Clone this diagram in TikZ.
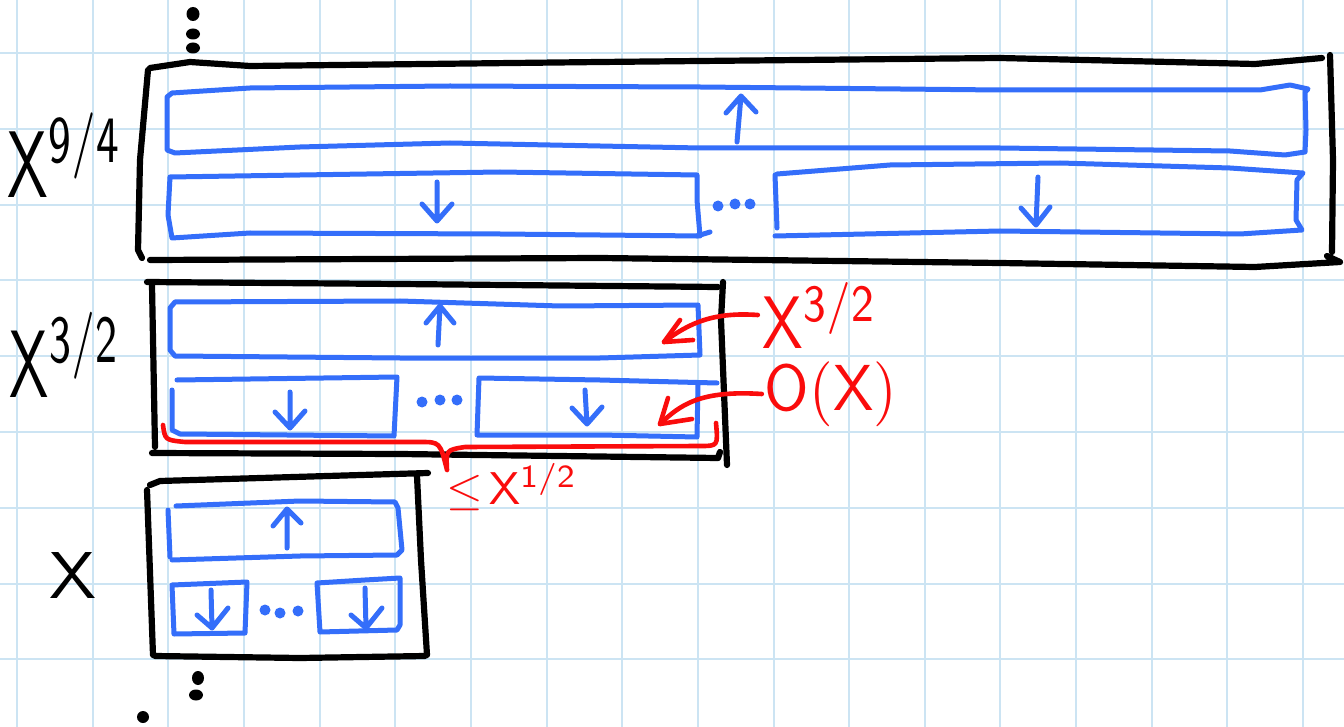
\documentclass[tikz,border=0pt]{standalone}
\usepackage{graphicx}
\definecolor{gridc}{RGB}{204,228,243}
\definecolor{penblue}{RGB}{52,110,250}
\definecolor{penred}{RGB}{250,12,12}
\newcommand{\fitto}[3]{\resizebox*{#1}{#2}{#3}}
\begin{document}
\begin{tikzpicture}[x=1pt,y=-1pt,line cap=round,line join=round,
  gridline/.style={draw=gridc,line width=2pt},
  blk/.style={draw=black,line width=6.2pt},
  blu/.style={draw=penblue,line width=5pt},
  rd/.style={draw=penred,line width=4.6pt},
  bdot/.style={fill=penblue},
  kdot/.style={fill=black},
  lbl/.style={inner sep=0pt,anchor=center},
  rlbl/.style={inner sep=0pt,anchor=center,text=penred}]
\fill[white] (0,0) rectangle (1344,727);
\useasboundingbox (0,0) rectangle (1344,727);
% grid
\foreach \i in {0,...,17} \draw[gridline] ({17+75.65*\i},0) -- ({17+75.65*\i},727);
\foreach \j in {0,...,8} \draw[gridline] (0,{53+75.8*\j}) -- (1344,{53+75.8*\j});

% ---------- level X^{9/4} ----------
\draw[blk] (150,68) -- (190,62) -- (250,66) -- (600,62) -- (1000,58) -- (1255,64) -- (1322,58);
\draw[blk] (148,70) -- (140,160) -- (138,250) -- (142,258);
\draw[blk] (1327,256) -- (1340,262) -- (1255,267) -- (1000,263) -- (600,258) -- (150,260);
\draw[blk] (1330,55) -- (1333,160) -- (1332,252);

\draw[blu] (172,93) -- (167,97) -- (167,150) -- (175,153) -- (300,147) -- (450,143) -- (700,148) -- (1000,148) -- (1230,151) -- (1285,155) -- (1305,152) -- (1306,130) -- (1305,92) -- (1308,89) -- (1290,85) -- (1260,90) -- (1000,90) -- (700,87) -- (450,86) -- (250,88) -- cycle;
\draw[blu] (170,177) -- (300,175) -- (500,172) -- (697,175) -- (697,200) -- (700,236) -- (500,234) -- (250,233) -- (172,238) -- (168,215) -- cycle;
\draw[blu] (697,236) -- (710,232);
\draw[blu] (777,174) -- (890,165) -- (1060,163) -- (1230,168) -- (1303,173) -- (1297,180) -- (1296,220) -- (1302,230) -- (1240,234) -- (1000,231) -- (775,236);
\draw[blu] (775,175) -- (777,228);
\coordinate (a1s) at (737,142); \coordinate (a1t) at (741,96);
\coordinate (a2s) at (437,182); \coordinate (a2t) at (437,221);
\coordinate (a3s) at (1038,177); \coordinate (a3t) at (1036,225);
\draw[blu] (a1s) -- (a1t) ++(-15,17) -- (a1t) -- ++(15,16);
\draw[blu] (a2s) -- (a2t) ++(-15,-17) -- (a2t) -- ++(15,-17);
\draw[blu] (a3s) -- (a3t) ++(-15,-17) -- (a3t) -- ++(14,-18);
\fill[bdot] (718,206) circle (5.5pt) (735,204) circle (5.5pt) (750,204) circle (5.5pt);

\node[lbl] (L94) at (65,155) {\fitto{114pt}{84pt}{$\mathsf{X}^{\mathsf{9/4}}$}};
\fill[kdot] (193,14) ellipse (6.5pt and 7pt) (193,34) ellipse (7pt and 5.5pt) (193,48) ellipse (7pt and 5.5pt);

% ---------- level X^{3/2} ----------
\draw[blk] (147,282) -- (400,284) -- (718,287);
\draw[blk] (152,285) -- (155,447);
\draw[blk] (152,453) -- (400,454) -- (718,458) -- (720,452);
\draw[blk] (723,282) -- (721,320) -- (727,465);

\draw[blu] (175,302) -- (400,301) -- (560,306) -- (698,305) -- (700,355) -- (600,358) -- (400,358) -- (175,356) -- (170,350) -- (170,308) -- cycle;
\draw[blu] (177,380) -- (397,377) -- (394,436) -- (180,434) -- (172,430) -- (172,390);
\draw[blu] (717,383) -- (600,380) -- (479,378) -- (477,435) -- (600,435) -- (697,437) -- (698,383);
\coordinate (b1s) at (438,345); \coordinate (b1t) at (440,306);
\coordinate (b2s) at (290,392); \coordinate (b2t) at (290,428);
\coordinate (b3s) at (585,390); \coordinate (b3t) at (587,424);
\draw[blu] (b1s) -- (b1t) ++(-14,17) -- (b1t) -- ++(14,17);
\draw[blu] (b2s) -- (b2t) ++(-15,-16) -- (b2t) -- ++(15,-17);
\draw[blu] (b3s) -- (b3t) ++(-15,-16) -- (b3t) -- ++(15,-17);
\fill[bdot] (422,402) circle (5.5pt) (440,400) circle (5.5pt) (457,400) circle (5.5pt);

\node[lbl] (L32) at (65,355) {\fitto{110pt}{85pt}{$\mathsf{X}^{\mathsf{3/2}}$}};

% ---------- level X ----------
\draw[blk] (150,485) -- (160,481) -- (428,473);
\draw[blk] (147,490) -- (153,655);
\draw[blk] (155,656) -- (300,658) -- (425,656);
\draw[blk] (417,476) -- (421,560) -- (427,655);

\draw[blu] (176,506) -- (300,501) -- (395,502) -- (398,508) -- (402,550) -- (397,555) -- (300,556) -- (172,560);
\draw[blu] (168,510) -- (170,557);
\draw[blu] (172,585) -- (247,582) -- (245,633) -- (174,634) -- cycle;
\draw[blu] (317,583) -- (365,580) -- (400,578) -- (400,625) -- (397,630) -- (320,632) -- cycle;
\coordinate (c1s) at (287,548); \coordinate (c1t) at (287,509);
\coordinate (c2s) at (211,590); \coordinate (c2t) at (212,628);
\coordinate (c3s) at (365,588); \coordinate (c3t) at (366,628);
\draw[blu] (c1s) -- (c1t) ++(-14,17) -- (c1t) -- ++(14,14);
\draw[blu] (c2s) -- (c2t) ++(-15,-13) -- (c2t) -- ++(16,-20);
\draw[blu] (c3s) -- (c3t) ++(-15,-13) -- (c3t) -- ++(16,-20);
\fill[bdot] (265,610) circle (5.5pt) (280,613) circle (5.5pt) (298,611) circle (5.5pt);

\node[lbl] (L1) at (73,575) {\fitto{47pt}{46pt}{$\mathsf{X}$}};
\fill[kdot] (198,678) ellipse (6pt and 7pt) (196,695) ellipse (7pt and 5.5pt) (143,717) ellipse (6pt and 6pt);

% ---------- red annotations ----------
\node[rlbl] (R1) at (820,315) {\fitto{114pt}{66pt}{$\mathsf{X}^{\mathsf{3/2}}$}};
\node[rlbl] (R2) at (831,394) {\fitto{132pt}{65pt}{$\mathsf{O(X)}$}};
\node[rlbl] (R3) at (512,487) {\fitto{130pt}{47pt}{$\leq\!\mathsf{X}^{\mathsf{1/2}}$}};
\coordinate (t1) at (664,342);
\coordinate (t2) at (660,424);
\draw[rd] ([xshift=-5pt]R1.west) .. controls (715,312) and (690,322) .. (t1);
\draw[rd] (t1) ++(16,-22) -- (t1) -- ++(29,-2);
\draw[rd] ([xshift=-3pt]R2.west) .. controls (700,390) and (680,405) .. (t2);
\draw[rd] (t2) ++(8,-26) -- (t2) -- ++(32,-5);
\coordinate (brtip) at (447,470);
\draw[rd] (163,425) .. controls (165,440) .. (185,442) -- (420,442) .. controls (440,442) .. (brtip) .. controls (446,450) .. (465,447) -- (700,446) .. controls (718,446) .. (716,423);
\end{tikzpicture}
\end{document}
